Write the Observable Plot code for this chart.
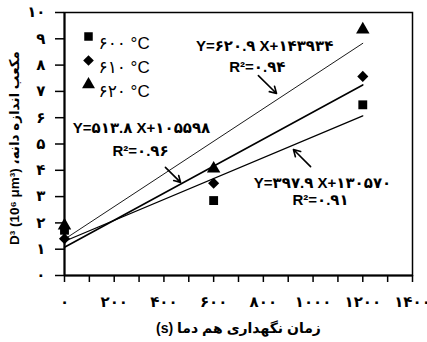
<!DOCTYPE html>
<html><head><meta charset="utf-8">
<script src="https://cdn.jsdelivr.net/npm/d3@7"></script>
<script src="https://cdn.jsdelivr.net/npm/@observablehq/plot@0.6"></script>
<style>body{margin:0;background:#fff}</style>
</head><body><div id="chart"></div>
<script>
// ---- data ----
const times = [0, 600, 1200];                 // isothermal holding time (s)
const seriesNames = ["600", "610", "620"];     // temperature (°C)
const values600 = [1.72, 2.85, 6.49];          // D^3 (10^6 µm^3)
const values610 = [1.40, 3.51, 7.57];
const values620 = [1.90, 4.06, 9.35];
const xTicks = [0, 100, 200, 300, 400, 500, 600, 700, 800, 900, 1000, 1100, 1200, 1300, 1400];
const yTicks = [0, 1, 2, 3, 4, 5, 6, 7, 8, 9, 10];
const equationTexts = ["Y=۶۲۰.۹ X+۱۴۳۹۳۴", "Y=۵۱۳.۸ X+۱۰۵۵۹۸", "Y=۳۹۷.۹ X+۱۳۰۵۷۰"];
const r2Texts = ["R²=۰.۹۴", "R²=۰.۹۶", "R²=۰.۹۱"];
const xLabel = "زمان نگهداری هم دما (s)";
const yLabel = "D³ (10⁶ μm³) مکعب اندازه دانه،\u200F";

const persian = n => String(n).replace(/\d/g, d => "۰۱۲۳۴۵۶۷۸۹"[d]);
const rtl = s => "\u202B" + s + "\u202C";

const valuesBySeries = {"600": values600, "610": values610, "620": values620};
const rows = seriesNames.flatMap(s => times.map((t, i) => ({t, v: valuesBySeries[s][i], s})));

// annotation placement (in data units)
const eqPos = [{x: 805, y: 8.71}, {x: 310, y: 5.59}, {x: 1038, y: 3.50}];
const r2Pos = [{x: 776, y: 7.91}, {x: 306, y: 4.71}, {x: 1030, y: 2.85}];
const arrows = [
  {x1: 780, y1: 7.60, x2: 853, y2: 6.92},
  {x1: 406, y1: 4.11, x2: 467, y2: 3.54},
  {x1: 990, y1: 4.14, x2: 921, y2: 4.79}
];
const eqRows = equationTexts.map((text, i) => ({text, ...eqPos[i]}));
const r2Rows = r2Texts.map((text, i) => ({text, ...r2Pos[i]}));

const font = "'Liberation Sans', 'DejaVu Sans', Arial, sans-serif";
const lineWidths = {"600": 1.3, "610": 1.6, "620": 0.9};

const legendMarks = seriesNames.flatMap((s, i) => [
  Plot.dot([s], {frameAnchor: "top-left", dx: 24, dy: 24 + 24 * i, symbol: d => d, fill: "black", r: 4.8}),
  Plot.text([s], {frameAnchor: "top-left", dx: 34, dy: 24 + 24 * i, text: d => persian(d) + " °C",
    textAnchor: "start", fontSize: 17, fill: "black"})
]);

const chart = Plot.plot({
  width: 427, height: 342,
  marginLeft: 64, marginRight: 15, marginTop: 12, marginBottom: 67,
  x: {domain: [0, 1400]},
  y: {domain: [0, 10]},
  symbol: {domain: seriesNames, range: ["square", "diamond2", "triangle"]},
  style: {fontFamily: font, fontSize: "13px", color: "black", background: "white", overflow: "visible"},
  marks: [
    Plot.frame({strokeWidth: 1.5}),
    Plot.axisY({ticks: yTicks, tickSize: 9, tickPadding: 10, tickFormat: persian, fontWeight: "bold", fontSize: 15, label: null, strokeWidth: 1.5}),
    Plot.axisX({ticks: xTicks, tickSize: 7, tickPadding: 14, tickFormat: d => d % 200 ? "" : persian(d), fontWeight: "bold", fontSize: 15, label: null, strokeWidth: 1.5}),
    Plot.ruleX([0], {strokeWidth: 2}),
    Plot.ruleY([0], {strokeWidth: 2}),
    ...seriesNames.map(s => Plot.linearRegressionY(rows.filter(d => d.s === s), {x: "t", y: "v", ci: 0, stroke: "black", strokeWidth: lineWidths[s]})),
    Plot.dot(rows, {x: "t", y: "v", symbol: "s", fill: "black", r: 5}),
    Plot.text(eqRows, {x: "x", y: "y", text: "text", fontSize: 15, fontWeight: "bold", fill: "black"}),
    Plot.text(r2Rows, {x: "x", y: "y", text: "text", fontSize: 15, fontWeight: "bold", fill: "black"}),
    Plot.arrow(arrows, {x1: "x1", y1: "y1", x2: "x2", y2: "y2", stroke: "black", strokeWidth: 1.6, headLength: 7}),
    ...legendMarks,
    Plot.text([xLabel], {frameAnchor: "bottom", dy: 57, text: d => rtl(d), fontSize: 14, fontWeight: "bold", fill: "black"}),
    Plot.text([yLabel], {frameAnchor: "left", dx: -50, dy: 4, rotate: -90, textAnchor: "middle", text: d => d, fontSize: 13.5, fontWeight: "bold", fill: "black"})
  ]
});
document.getElementById("chart").append(chart);
</script>
</body></html>
